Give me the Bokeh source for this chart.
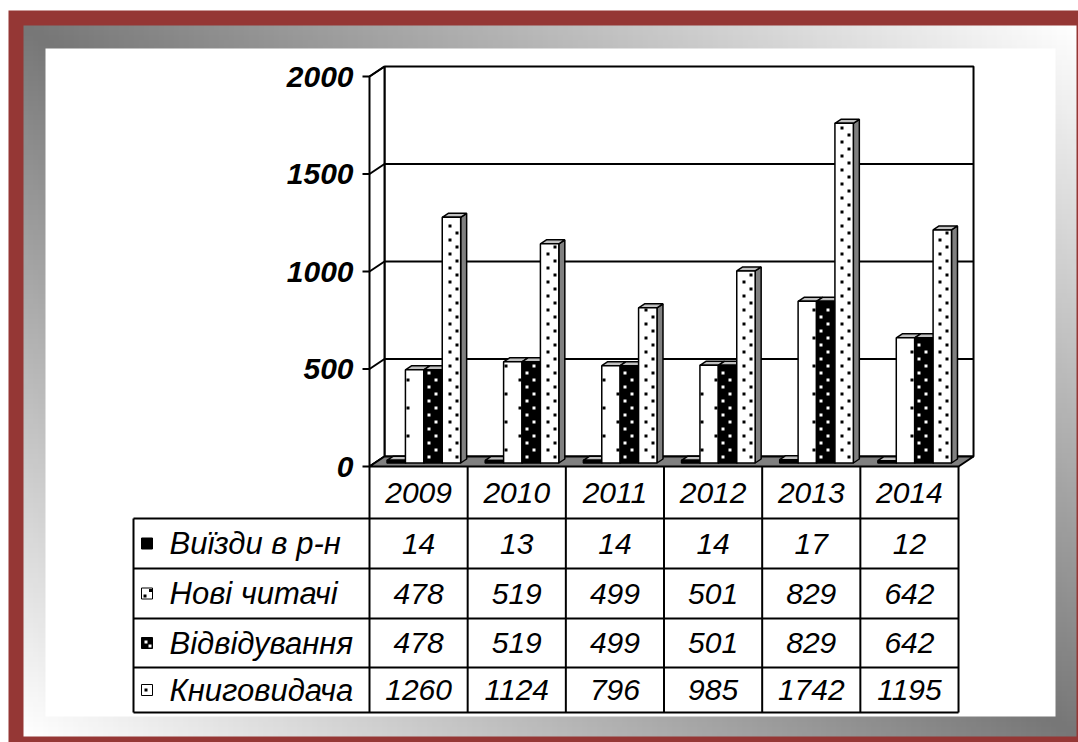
import numpy as np
from bokeh.plotting import figure
from bokeh.models import Range1d
from bokeh.core.properties import value
from bokeh.embed import file_html
from bokeh.resources import INLINE

# ---------------- data ----------------
years = ["2009", "2010", "2011", "2012", "2013", "2014"]
series_names = ["Виїзди в р-н", "Нові читачі", "Відвідування", "Книговидача"]
vyizdy = [14, 13, 14, 14, 17, 12]
novi_chytachi = [478, 519, 499, 501, 829, 642]
vidviduvannia = [478, 519, 499, 501, 829, 642]
knyhovydacha = [1260, 1124, 796, 985, 1742, 1195]
y_ticks = [0, 500, 1000, 1500, 2000]
series_values = [vyizdy, novi_chytachi, vidviduvannia, knyhovydacha]

# ---------------- layout ----------------
W, H = 1078, 742
X0, XS = 369.0, 98.17       # page x of category 0, px per category
Y0, YS = 466.0, 0.195       # page y of value 0, px per unit
DX, DY = 15.0 / XS, 10.0 / YS   # depth offset in data units
NCAT = len(years)
YMAX = y_ticks[-1]

def px2x(px):
    return (px - X0) / XS

def py2y(py):
    return (Y0 - py) / YS

def Yp(py):                 # page y -> "py" range value
    return float(H) - py

p = figure(width=W, height=H,
           x_range=Range1d(px2x(0), px2x(W)),
           y_range=Range1d(py2y(H), py2y(0)),
           output_backend="svg", toolbar_location=None, min_border=0,
           x_axis_type=None, y_axis_type=None, outline_line_color=None,
           background_fill_color="white", border_fill_color="white")
p.extra_x_ranges = {"px": Range1d(0, W)}
p.extra_y_ranges = {"py": Range1d(0, H)}
p.xgrid.visible = False
p.ygrid.visible = False

# ---------------- frame ----------------
p.quad(left=[8], right=[1090], bottom=[Yp(750)], top=[Yp(10)],
       fill_color="#953735", line_color=None, x_range_name="px", y_range_name="py")
nx, ny = 211, 143
u = np.linspace(0, 1, nx)
vt = np.linspace(1, 0, ny)
g = 119 + 136 * np.abs(u[None, :] - vt[:, None])
img = np.empty((ny, nx), dtype=np.uint32)
view = img.view(dtype=np.uint8).reshape((ny, nx, 4))
view[..., 0] = g
view[..., 1] = g
view[..., 2] = g
view[..., 3] = 255
p.image_rgba(image=[img], x=23, y=Yp(736), dw=1053, dh=711,
             x_range_name="px", y_range_name="py")
p.quad(left=[45], right=[1055], bottom=[Yp(716)], top=[Yp(48)],
       fill_color="white", line_color=None, x_range_name="px", y_range_name="py")

LW = 2
# ---------------- walls ----------------
p.quad(left=[DX], right=[NCAT + DX], bottom=[DY], top=[YMAX + DY],
       fill_color="white", line_color="black", line_width=LW)
p.patch([0, 0, DX, DX], [0, YMAX, YMAX + DY, DY],
        fill_color="white", line_color="black", line_width=LW)
gv = [v for v in y_ticks if 0 < v < YMAX]
p.segment(x0=[DX] * len(gv), y0=[v + DY for v in gv],
          x1=[NCAT + DX] * len(gv), y1=[v + DY for v in gv],
          line_color="black", line_width=LW)
p.segment(x0=[0] * len(y_ticks), y0=y_ticks,
          x1=[DX] * len(y_ticks), y1=[v + DY for v in y_ticks],
          line_color="black", line_width=LW)
p.segment(x0=[-7 / XS] * len(y_ticks), y0=y_ticks,
          x1=[0] * len(y_ticks), y1=y_ticks,
          line_color="black", line_width=LW)
# floor
p.patch([0, NCAT, NCAT + DX, DX], [0, 0, DY, DY],
        fill_color="#808080", line_color="black", line_width=LW)

# ---------------- pattern helper (dot texture in screen pixels) ----------------
def dot_grid(left_px, right_px, top_px, bottom_px, tile):
    xs, ys = [], []
    half = tile / 2.0
    k0 = int(np.floor(left_px / tile)) - 1
    k1 = int(np.ceil(right_px / tile)) + 1
    m0 = int(np.floor(top_px / tile)) - 1
    m1 = int(np.ceil(bottom_px / tile)) + 1
    for k in range(k0, k1 + 1):
        for m in range(m0, m1 + 1):
            for (ox, oy) in ((0.0, 0.0), (half, half)):
                cx = k * tile + ox + 1.5
                cy = m * tile + oy + 1.5
                if left_px + 2 <= cx <= right_px - 2 and top_px + 2 <= cy <= bottom_px - 2:
                    xs.append(cx)
                    ys.append(cy)
    return xs, ys

# fill, dot colour, tile size for each series
styles = [("black", None, 0), ("white", "black", 28), ("black", "white", 14), ("white", "black", 14)]

# ---------------- bars ----------------
BW, G0, F0, F1 = 0.1875, 0.125, 0.35, 0.75
d = F1 - F0
side_xs, side_ys, top_xs, top_ys = [], [], [], []
fronts = []
for s, vals in enumerate(series_values):
    fl, fr, fb, ft = [], [], [], []
    for i, v in enumerate(vals):
        xl = i + G0 + s * BW + F0 * DX
        xr = xl + BW
        yb = F0 * DY
        yt = v + F0 * DY
        side_xs.append([xr, xr, xr + d * DX, xr + d * DX])
        side_ys.append([yb, yt, yt + d * DY, yb + d * DY])
        top_xs.append([xl, xr, xr + d * DX, xl + d * DX])
        top_ys.append([yt, yt, yt + d * DY, yt + d * DY])
        fl.append(xl); fr.append(xr); fb.append(yb); ft.append(yt)
    fronts.append((fl, fr, fb, ft))

p.patches(side_xs, side_ys, fill_color="#808080", line_color="black", line_width=1.5)
p.patches(top_xs, top_ys, fill_color="#c0c0c0", line_color="black", line_width=1.5)

for s, (fl, fr, fb, ft) in enumerate(fronts):
    fill, dotc, tile = styles[s]
    p.quad(left=fl, right=fr, bottom=fb, top=ft, fill_color=fill,
           line_color="black", line_width=1.5)
    if dotc is None:
        continue
    dx_all, dy_all = [], []
    for xl, xr, yb, yt in zip(fl, fr, fb, ft):
        lp, rp = X0 + xl * XS, X0 + xr * XS
        tp, bp = Y0 - yt * YS, Y0 - yb * YS
        xs, ys = dot_grid(lp, rp, tp, bp, tile)
        dx_all += [px2x(x) for x in xs]
        dy_all += [py2y(y) for y in ys]
    p.scatter(dx_all, dy_all, marker="square", size=3, fill_color=dotc, line_color=None)

# ---------------- y labels ----------------
p.text(x=[px2x(353)] * len(y_ticks), y=y_ticks, text=[str(v) for v in y_ticks],
       text_font=value("Liberation Sans"), text_font_style="bold italic",
       text_font_size="30px", text_align="right", text_baseline="middle", text_color="black")

# ---------------- data table ----------------
row_edges = [518, 568, 618, 667, 712]
TL = px2x(133)
p.segment(x0=list(range(NCAT + 1)), y0=[Yp(466)] * (NCAT + 1),
          x1=list(range(NCAT + 1)), y1=[Yp(712)] * (NCAT + 1),
          line_color="black", line_width=LW, y_range_name="py")
p.segment(x0=[TL] * len(row_edges), y0=[Yp(r) for r in row_edges],
          x1=[NCAT] * len(row_edges), y1=[Yp(r) for r in row_edges],
          line_color="black", line_width=LW, y_range_name="py")
p.segment(x0=[TL], y0=[Yp(518)], x1=[TL], y1=[Yp(712)],
          line_color="black", line_width=LW, y_range_name="py")

font = dict(text_font=value("Liberation Sans"), text_font_style="italic",
            text_baseline="middle", text_color="black")
p.text(x=[i + 0.5 for i in range(NCAT)], y=[Yp(492)] * NCAT, text=years,
       text_align="center", text_font_size="30px", y_range_name="py", **font)
row_centers = [(row_edges[r] + row_edges[r + 1]) / 2 for r in range(4)]
for r, vals in enumerate(series_values):
    p.text(x=[i + 0.5 for i in range(NCAT)], y=[Yp(row_centers[r])] * NCAT,
           text=[str(v) for v in vals], text_align="center", text_font_size="30px",
           y_range_name="py", **font)
    fill, dotc, tile = styles[r]
    kl, kr, kt, kb = 141, 152, row_centers[r] - 5.5, row_centers[r] + 5.5
    p.quad(left=[kl], right=[kr], bottom=[Yp(kb)], top=[Yp(kt)], fill_color=fill,
           line_color="black", line_width=1, x_range_name="px", y_range_name="py")
    if dotc is not None:
        xs, ys = dot_grid(kl, kr, kt, kb, 8 if tile == 14 else 11)
        p.scatter(xs, [Yp(y) for y in ys], marker="square", size=3, fill_color=dotc,
                  line_color=None, x_range_name="px", y_range_name="py")
p.text(x=[px2x(169)] * 4, y=[Yp(c) for c in row_centers], text=series_names,
       text_align="left", text_font_size="31px", y_range_name="py", **font)

open("out.html", "w").write(file_html(p, INLINE))
